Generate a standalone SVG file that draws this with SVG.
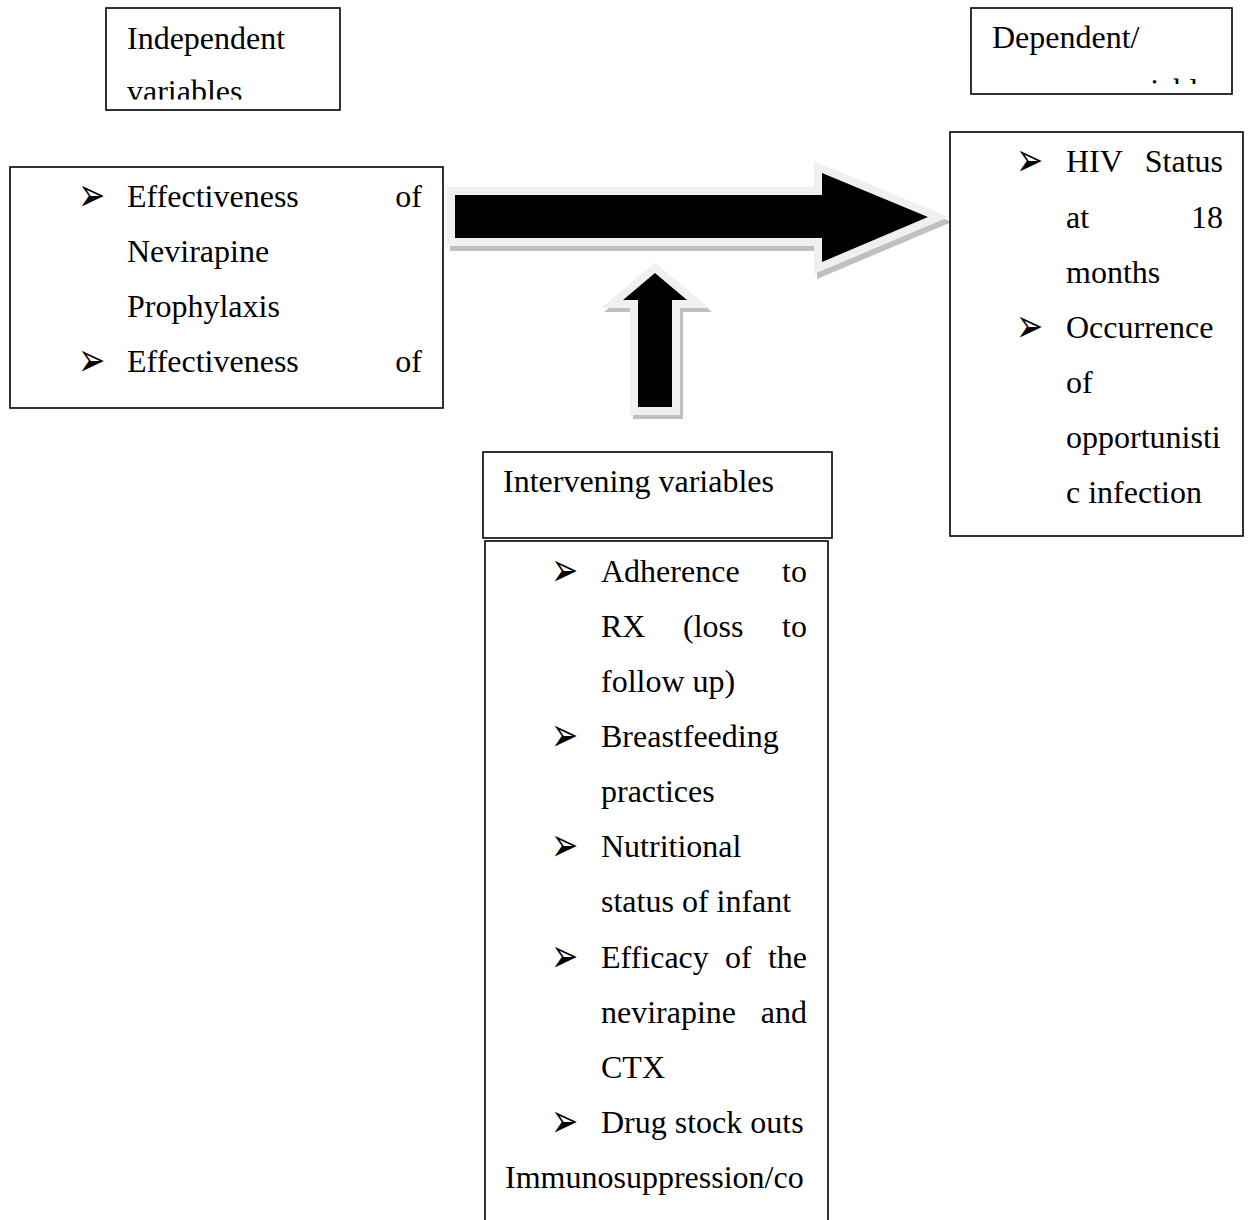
<svg xmlns="http://www.w3.org/2000/svg" width="1248" height="1220" viewBox="0 0 1248 1220">
<style>
.box{fill:#fff;stroke:#000;stroke-width:1.6}
.t{font-family:"Liberation Serif","Times New Roman",serif;font-size:32px;fill:#000}
.b{font-family:"DejaVu Sans",sans-serif;font-size:25px;fill:#000}
.e{text-anchor:end}
.sh{fill:#c0c0c0;stroke:#c0c0c0;stroke-width:16;stroke-linejoin:miter}
.ol{fill:#f0f0f0;stroke:#f0f0f0;stroke-width:16;stroke-linejoin:miter}
.ar{fill:#000}
</style>
<defs>
<clipPath id="c1"><rect x="106" y="8" width="234" height="91.5"/></clipPath>
<clipPath id="c2"><rect x="971" y="8" width="261" height="76"/></clipPath>
<text id="bul" class="b" x="0" y="0">➢</text>
</defs>
<rect width="1248" height="1220" fill="#fff"/>

<g id="connectors">
  <g id="arrow-right">
    <polygon class="sh" transform="translate(3,5)" points="455,195 822,195 822,173 928,217 822,262 822,238 455,238"/>
    <polygon class="ol" points="455,195 822,195 822,173 928,217 822,262 822,238 455,238"/>
    <polygon class="ar" points="455,195 822,195 822,173 928,217 822,262 822,238 455,238"/>
  </g>
  <g id="arrow-up">
    <polygon class="sh" transform="translate(3,4)" points="638,407 638,300 623,300 655,273 687,300 672,300 672,407"/>
    <polygon class="ol" points="638,407 638,300 623,300 655,273 687,300 672,300 672,407"/>
    <polygon class="ar" points="638,407 638,300 623,300 655,273 687,300 672,300 672,407"/>
  </g>
</g>

<g id="independent-label">
  <rect class="box" x="106" y="8" width="234" height="102"/>
  <g clip-path="url(#c1)">
    <text class="t" x="127" y="49">Independent</text>
    <text class="t" x="127" y="102">variables</text>
  </g>
</g>

<g id="dependent-label">
  <rect class="box" x="971" y="8" width="261" height="86"/>
  <g clip-path="url(#c2)">
    <text class="t" x="992" y="48">Dependent/</text>
    <text class="t e" x="1225" y="101">variables</text>
  </g>
</g>

<g id="independent-box">
  <rect class="box" x="10" y="167" width="433" height="241"/>
  <use href="#bul" transform="translate(78,211) scale(1.3,1.9)"/>
  <text class="t" x="127" y="207">Effectiveness</text>
  <text class="t e" x="422" y="207">of</text>
  <text class="t" x="127" y="262">Nevirapine</text>
  <text class="t" x="127" y="317">Prophylaxis</text>
  <use href="#bul" transform="translate(78,376) scale(1.3,1.9)"/>
  <text class="t" x="127" y="372">Effectiveness</text>
  <text class="t e" x="422" y="372">of</text>
</g>

<g id="dependent-box">
  <rect class="box" x="950" y="132" width="293" height="404"/>
  <use href="#bul" transform="translate(1016,176) scale(1.3,1.9)"/>
  <text class="t" x="1066" y="172">HIV</text>
  <text class="t e" x="1223" y="172">Status</text>
  <text class="t" x="1066" y="228">at</text>
  <text class="t e" x="1223" y="228">18</text>
  <text class="t" x="1066" y="283">months</text>
  <use href="#bul" transform="translate(1016,342) scale(1.3,1.9)"/>
  <text class="t" x="1066" y="338">Occurrence</text>
  <text class="t" x="1066" y="393">of</text>
  <text class="t" x="1066" y="448">opportunisti</text>
  <text class="t" x="1066" y="503">c infection</text>
</g>

<g id="intervening-label">
  <rect class="box" x="483" y="452" width="349" height="86"/>
  <text class="t" x="503" y="492">Intervening variables</text>
</g>

<g id="intervening-box">
  <rect class="box" x="485" y="541" width="343" height="700"/>
  <use href="#bul" transform="translate(551,586) scale(1.3,1.9)"/>
  <text class="t" x="601" y="582">Adherence</text>
  <text class="t e" x="807" y="582">to</text>
  <text class="t" x="601" y="637">RX</text>
  <text class="t" x="683" y="637">(loss</text>
  <text class="t e" x="807" y="637">to</text>
  <text class="t" x="601" y="692">follow up)</text>
  <use href="#bul" transform="translate(551,751) scale(1.3,1.9)"/>
  <text class="t" x="601" y="747">Breastfeeding</text>
  <text class="t" x="601" y="802">practices</text>
  <use href="#bul" transform="translate(551,861) scale(1.3,1.9)"/>
  <text class="t" x="601" y="857">Nutritional</text>
  <text class="t" x="601" y="912">status of infant</text>
  <use href="#bul" transform="translate(551,972) scale(1.3,1.9)"/>
  <text class="t" x="601" y="968">Efficacy</text>
  <text class="t" x="725" y="968">of</text>
  <text class="t e" x="807" y="968">the</text>
  <text class="t" x="601" y="1023">nevirapine</text>
  <text class="t e" x="807" y="1023">and</text>
  <text class="t" x="601" y="1078">CTX</text>
  <use href="#bul" transform="translate(551,1137) scale(1.3,1.9)"/>
  <text class="t" x="601" y="1133">Drug stock outs</text>
  <text class="t" x="505" y="1188">Immunosuppression/co</text>
</g>
</svg>
